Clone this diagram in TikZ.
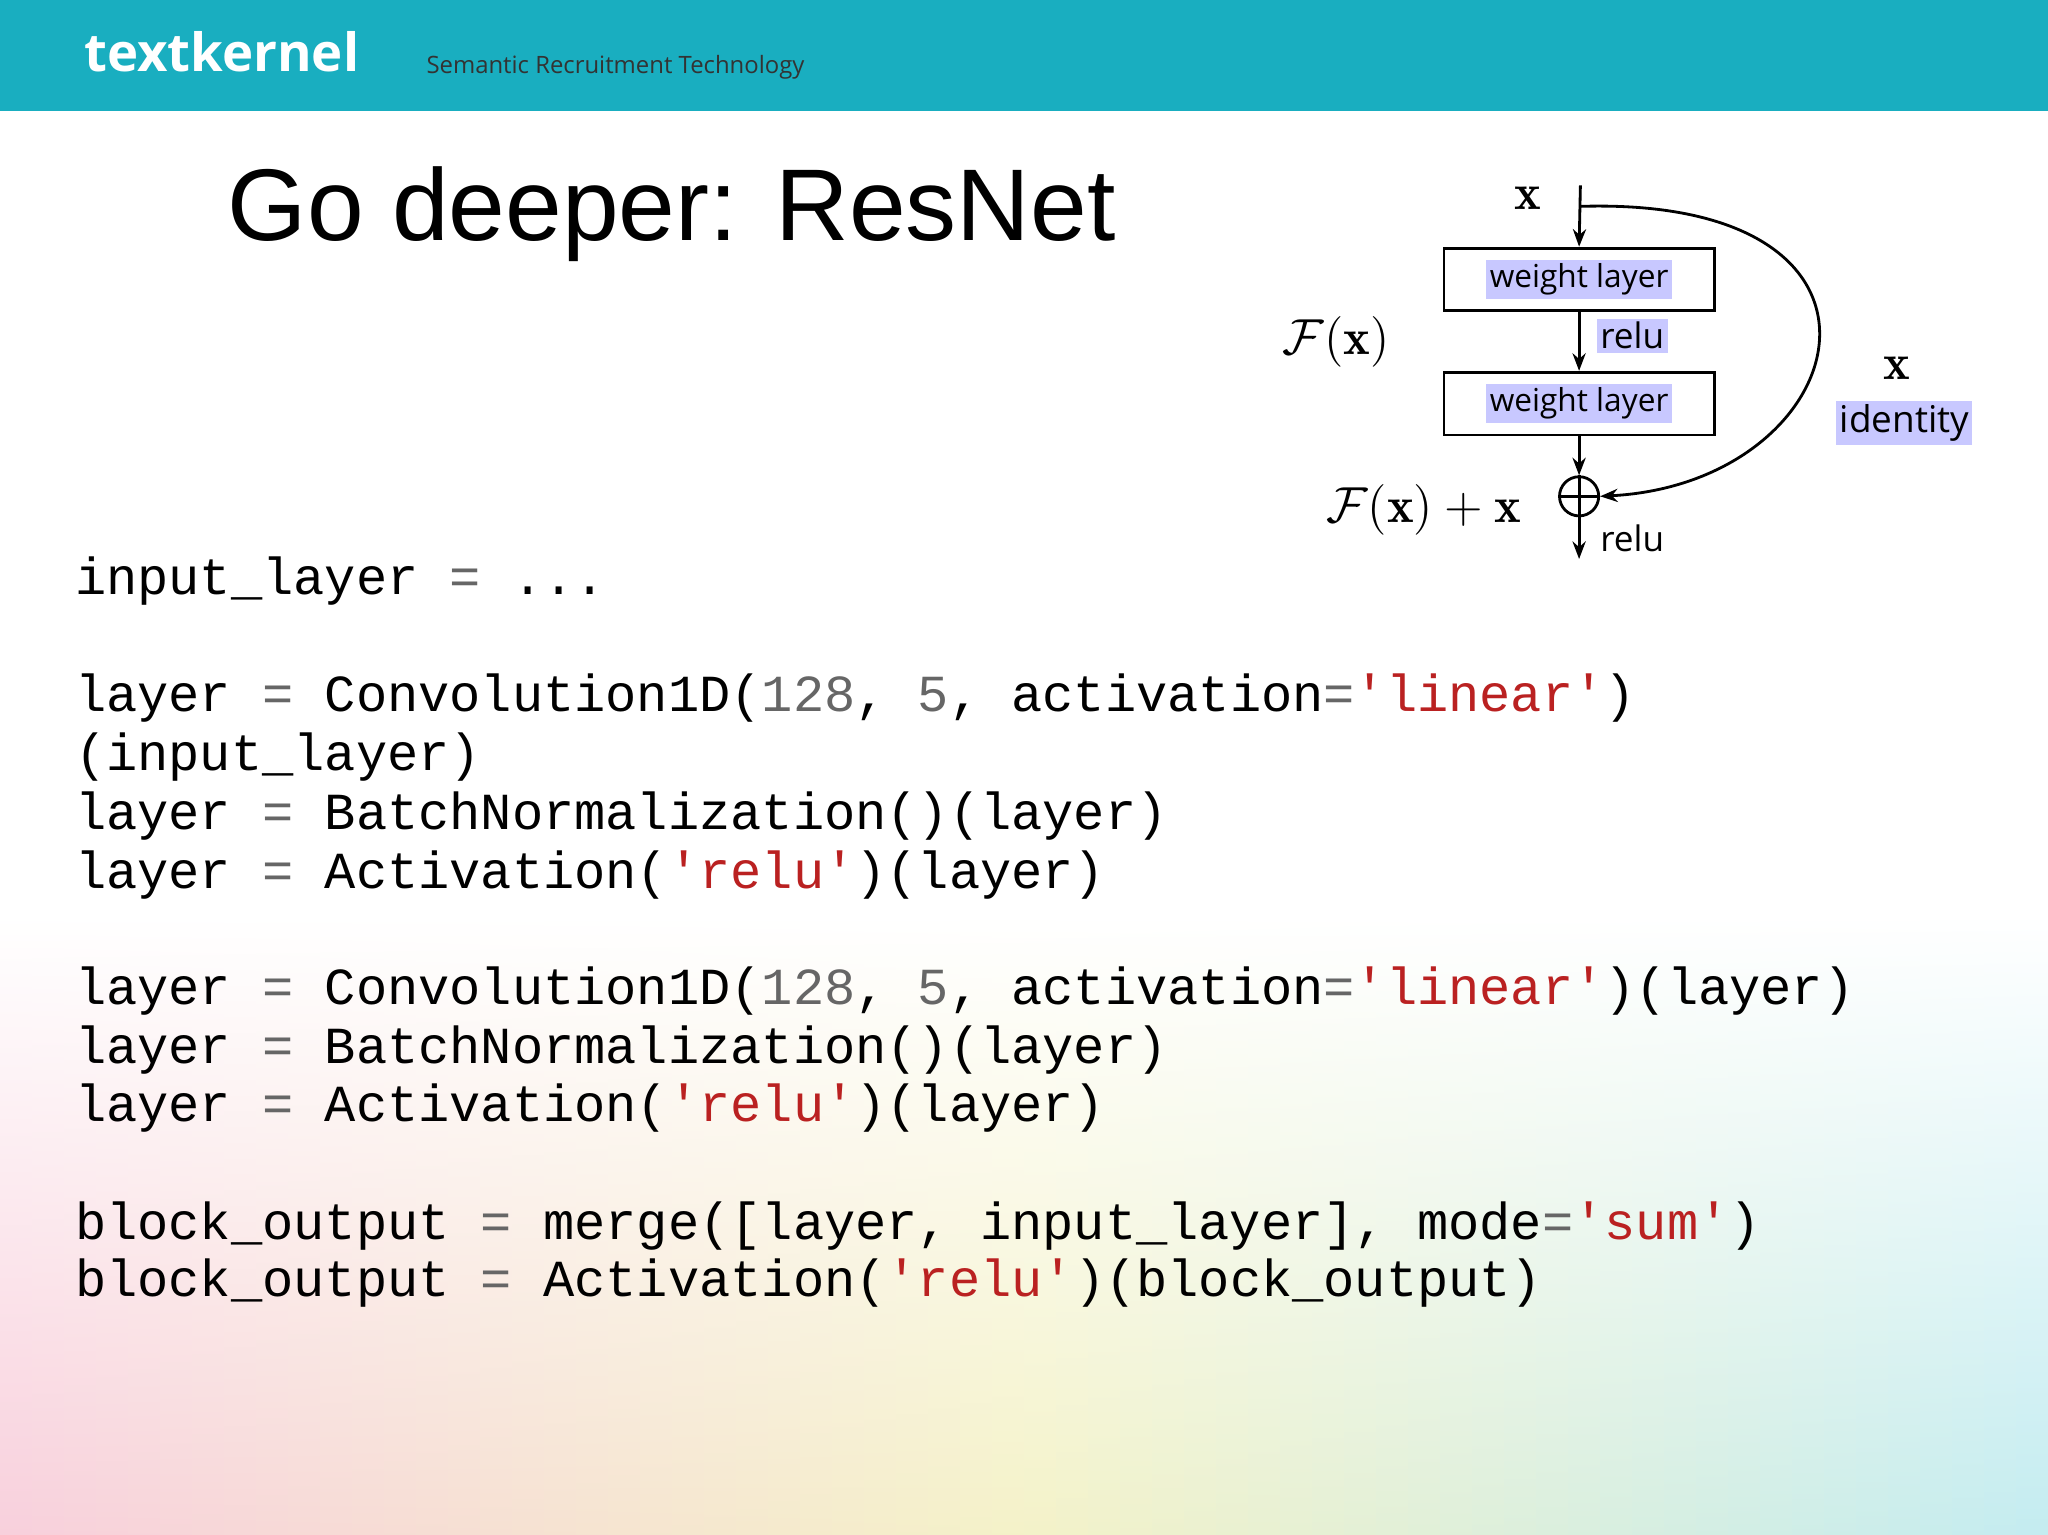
\documentclass[tikz,border=0pt]{standalone}
\usepackage{fontspec}
\usepackage{amsmath}
\newfontfamily\code{Liberation Mono}
\newfontfamily\sans{Liberation Sans}
\newfontfamily\hdr{Open Sans}
\usetikzlibrary{arrows.meta}
\definecolor{teal}{HTML}{19AEC0}
\definecolor{hl}{HTML}{C8C8FF}
\definecolor{strc}{HTML}{BA2121}
\definecolor{numc}{HTML}{666666}
\definecolor{cpink}{HTML}{F8D0DC}
\definecolor{cyel}{HTML}{F4F2C8}
\definecolor{ccyan}{HTML}{C4ECF0}
\newcommand{\sq}[1]{\textcolor{strc}{'#1'}}
\newcommand{\nm}[1]{\textcolor{numc}{#1}}
\newcommand{\eqs}{\textcolor{numc}{=}}
\begin{document}
\begin{tikzpicture}[x=0.01306cm,y=-0.01306cm,
  codeline/.style={anchor=base west,inner sep=0,font=\code\fontsize{14.8}{15}\selectfont},
  wbox/.style={draw,thick,minimum width=207*0.01306cm,minimum height=48*0.01306cm,inner sep=0},
  hltext/.style={fill=hl,inner sep=1pt,font=\hdr\fontsize{9}{10}\selectfont},
  arr/.style={-{Stealth[length=5pt]},thick}]
\useasboundingbox (0,0) rectangle (1568,1175);
\fill[white] (0,0) rectangle (1568,1175);
\foreach \i in {0,...,63}{
  \pgfmathsetmacro{\t}{\i/63}
  \pgfmathparse{\t<0.5 ? 1 : 0}
  \ifnum\pgfmathresult=1
    \pgfmathsetmacro{\p}{100*(1-2*\t)}
    \colorlet{cc}{cpink!\p!cyel}
  \else
    \pgfmathsetmacro{\p}{100*(2*\t-1)}
    \colorlet{cc}{ccyan!\p!cyel}
  \fi
  \shade[top color=white,bottom color=cc,shading angle=0] (\i*24.5,700) rectangle (\i*24.5+25.5,1175);
}
\fill[teal] (0,0) rectangle (1568,85);
\node[anchor=base west,text=white,font=\hdr\bfseries\fontsize{15}{16}\selectfont,inner sep=0] (brand) at (64,55) {textkernel};
\node[anchor=base west,text=black!80,font=\hdr\fontsize{6.8}{8}\selectfont,inner sep=0] (tag) at (326,56) {Semantic Recruitment Technology};
\node[anchor=base west,font=\sans\fontsize{29}{31}\selectfont,inner sep=0] (title) at (174,184) {Go deeper: ResNet};
% diagram
\node[wbox] (b1) at (1209,214) {};
\node[hltext] at (1209,214) {weight layer};
\node[wbox] (b2) at (1209,309) {};
\node[hltext] at (1209,309) {weight layer};
\node[draw,thick,circle,minimum size=30*0.01306cm,inner sep=0] (add) at (1209,380) {};
\draw[thick] (add.north)--(add.south) (add.west)--(add.east);
\coordinate (top) at (1210,142);
\coordinate (split) at (1210,158);
\coordinate (out) at (1209,428);
\draw[arr] (top) -- (b1.north);
\draw[arr] (b1.south) -- (b2.north);
\draw[arr] (b2.south) -- (add.north);
\draw[arr] (add.south) -- (out);
\draw[arr] (split) .. controls (1480,150) and (1420,370) .. (add.east);
\node[font=\Large] (xl) at (1170,152) {$\mathbf{x}$};
\node[hltext,font=\hdr\fontsize{10}{11}\selectfont,anchor=west] (r1) at (1222,257) {relu};
\node[font=\hdr\fontsize{10}{11}\selectfont,anchor=west,inner sep=1pt] (r2) at (1222,412) {relu};
\node[font=\Large] (fx) at (1023,262) {$\mathcal{F}(\mathbf{x})$};
\node[font=\Large] (fxx) at (1090,390) {$\mathcal{F}(\mathbf{x})+\mathbf{x}$};
\node[font=\Large] (xr) at (1452,282) {$\mathbf{x}$};
\node[hltext,font=\hdr\fontsize{10.5}{12}\selectfont] (id) at (1458,324) {identity};
% code
\node[codeline] (c1) at (57,455) {input\_layer \eqs{} ...};
\node[codeline] (c2) at (57,545) {layer \eqs{} Convolution1D(\nm{128}, \nm{5}, activation\eqs\sq{linear})};
\node[codeline] (c3) at (57,590) {(input\_layer)};
\node[codeline] (c4) at (57,635) {layer \eqs{} BatchNormalization()(layer)};
\node[codeline] (c5) at (57,680) {layer \eqs{} Activation(\sq{relu})(layer)};
\node[codeline] (c6) at (57,769) {layer \eqs{} Convolution1D(\nm{128}, \nm{5}, activation\eqs\sq{linear})(layer)};
\node[codeline] (c7) at (57,814) {layer \eqs{} BatchNormalization()(layer)};
\node[codeline] (c8) at (57,859) {layer \eqs{} Activation(\sq{relu})(layer)};
\node[codeline] (c9) at (57,949) {block\_output \eqs{} merge([layer, input\_layer], mode\eqs\sq{sum})};
\node[codeline] (c10) at (57,993) {block\_output \eqs{} Activation(\sq{relu})(block\_output)};
\end{tikzpicture}
\end{document}
